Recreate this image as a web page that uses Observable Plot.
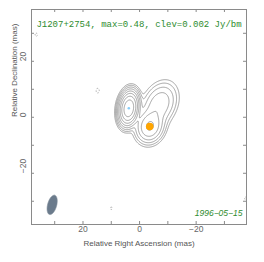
<!DOCTYPE html>
<html><head><meta charset="utf-8">
<script src="https://cdn.jsdelivr.net/npm/d3@7"></script>
<script src="https://cdn.jsdelivr.net/npm/@observablehq/plot@0.6"></script>
<style>body{margin:0;background:#fff}</style>
</head><body><div id="chart"></div>
<script>
// ---- data ----
const titleText = "J1207+2754, max=0.48, clev=0.002 Jy/bm";
const dateText = "1996−05−15";
const xLabel = "Relative Right Ascension (mas)";
const yLabel = "Relative Declination (mas)";
// brightness components (mas, Jy/beam, FWHM mas, PA deg)
const compX    = [3.8,   -3.6,  -7.0,  36.5,   14.8,   10.0,   -37.6];
const compY    = [3.2,   -3.3,   4.5,  29.5,    9.5,  -32.5,   -29.0];
const compPeak = [0.48,  0.07,  0.03, -0.0026, -0.0028, -0.0025, -0.0026];
const compMaj  = [6.3,   6.6,   9.5,   1.8,     2.4,     1.6,     1.8];
const compMin  = [3.5,   5.4,   6.5,   1.4,     1.6,     1.2,     1.4];
const compPA   = [-8,   -15,   -25,    0,       0,       0,       0];
const posLevels = [0.002, 0.004, 0.008, 0.016, 0.032, 0.064, 0.128, 0.256];
const negLevels = [-0.002];
const tickValues = [-30, -20, -10, 0, 10, 20, 30];
const tickLabels = [-20, 0, 20];
const coreX = [3.8], coreY = [3.2];
const modelX = [-3.6], modelY = [-3.3];
const beamX = 30.9, beamY = -31.3, beamMaj = 7.1, beamMin = 3.2, beamPA = -15;

// ---- grid from components ----
const N = 320, G0 = -40, G1 = 40, step = (G1 - G0) / N;
const grid = new Array(N * N);
for (let j = 0; j < N; j++) {
  const y = G0 + (j + 0.5) * step;
  for (let i = 0; i < N; i++) {
    const x = G0 + (i + 0.5) * step;
    let v = 0;
    for (let k = 0; k < compX.length; k++) {
      const pa = compPA[k] * Math.PI / 180;
      const dx = x - compX[k], dy = y - compY[k];
      const u = dx * Math.sin(pa) + dy * Math.cos(pa);
      const w = dx * Math.cos(pa) - dy * Math.sin(pa);
      const sM = compMaj[k] / 2.3548, sm = compMin[k] / 2.3548;
      v += compPeak[k] * Math.exp(-0.5 * (u * u / (sM * sM) + w * w / (sm * sm)));
    }
    grid[j * N + i] = v;
  }
}
// beam outline
const bpa = beamPA * Math.PI / 180;
const beamPts = d3.range(0, 73).map(t => {
  const a = t / 72 * 2 * Math.PI;
  const A = beamMaj / 2 * Math.cos(a), B = beamMin / 2 * Math.sin(a);
  return {x: beamX + A * Math.sin(bpa) + B * Math.cos(bpa),
          y: beamY + A * Math.cos(bpa) - B * Math.sin(bpa)};
});

const fmt = d => d < 0 ? "−" + Math.abs(d) : String(d);
const gray = "#8a8a8a";
const green = "#2e8b2e";
const FW = 215, FH = 215;

const plot = Plot.plot({
  width: 264, height: 262,
  marginLeft: 31, marginRight: 18, marginTop: 9, marginBottom: 38,
  x: {domain: [38.2, -37.8], axis: null},
  y: {domain: [-38.3, 38.5], axis: null},
  style: {fontFamily: "Liberation Sans, Arial, sans-serif", fontSize: "8px", background: "#fff"},
  marks: [
    Plot.contour(grid, {x1: G0, x2: G1, y1: G0, y2: G1, width: N, height: N,
      value: Plot.identity, thresholds: posLevels, fill: "none", stroke: "#8c8c8c", strokeWidth: 0.8, clip: true}),
    Plot.contour(grid, {x1: G0, x2: G1, y1: G0, y2: G1, width: N, height: N,
      value: Plot.identity, thresholds: negLevels, fill: "none", stroke: "#9a9a9a", strokeWidth: 0.8, strokeDasharray: "1.5,1.5", clip: true}),
    Plot.line(beamPts, {x: "x", y: "y", fill: "#6b7b8c", stroke: "#7d8b99", strokeWidth: 0.6}),
    Plot.dot(coreX.map((x, i) => ({x, y: coreY[i]})), {x: "x", y: "y", r: 1.3, fill: "#87cefa"}),
    Plot.dot(modelX.map((x, i) => ({x, y: modelY[i]})), {x: "x", y: "y", r: 3.8, fill: "#ffa500"}),
    Plot.frame({stroke: gray}),
    Plot.ruleX(tickValues, {x: d => d, insetTop: FH - 3, stroke: gray}),
    Plot.ruleX(tickValues, {x: d => d, insetBottom: FH - 3, stroke: gray}),
    Plot.ruleY(tickValues, {y: d => d, insetRight: FW - 3, stroke: gray}),
    Plot.ruleY(tickValues, {y: d => d, insetLeft: FW - 3, stroke: gray}),
    Plot.text(tickLabels, {x: d => d, text: fmt, frameAnchor: "bottom", dy: 7, fill: "#666", fontSize: 8.5}),
    Plot.text(tickLabels, {y: d => d, text: fmt, frameAnchor: "left", dx: -8, rotate: -90, fill: "#666", fontSize: 8.5}),
    Plot.text([xLabel], {text: d => d, frameAnchor: "bottom", dy: 21, fill: "#555", fontSize: 8}),
    Plot.text([yLabel], {text: d => d, frameAnchor: "left", dx: -17, rotate: -90, fill: "#555", fontSize: 8}),
    Plot.text([titleText], {text: d => d, frameAnchor: "top", dy: 11, fill: green, fontFamily: "Liberation Mono, monospace", fontSize: 9}),
    Plot.text([dateText], {text: d => d, frameAnchor: "bottom-right", dx: -4, dy: -9, textAnchor: "end", fill: green, fontStyle: "italic", fontSize: 8.5})
  ]
});
document.getElementById("chart").appendChild(plot);
</script>
</body></html>
